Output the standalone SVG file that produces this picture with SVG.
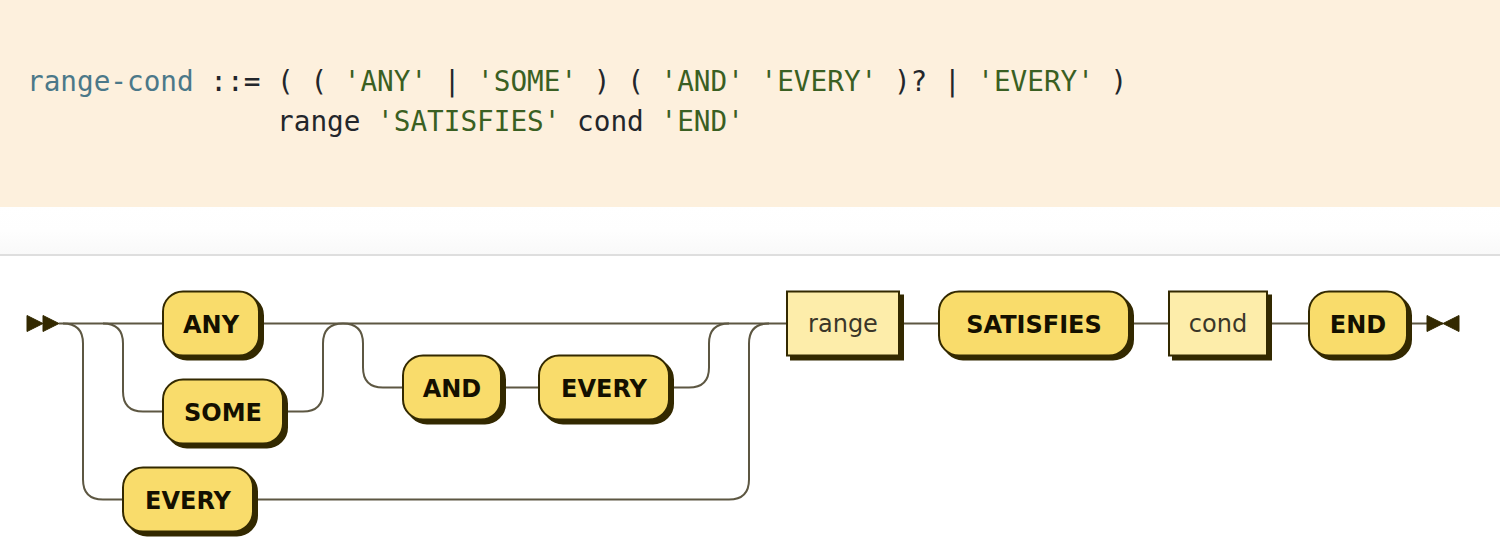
<svg xmlns="http://www.w3.org/2000/svg" width="1500" height="556" viewBox="0 0 1500 556">
<defs>
<linearGradient id="fade" x1="0" y1="0" x2="0" y2="1">
<stop offset="0" stop-color="#ffffff"/>
<stop offset="0.5" stop-color="#fefefe"/>
<stop offset="1" stop-color="#f9f9f9"/>
</linearGradient>
</defs>
<style>
.code{font-family:"DejaVu Sans Mono","Liberation Mono",monospace;font-size:27.7px;fill:#23262b;white-space:pre}
.nt-name{fill:#4b7889}
.str{fill:#3a5f22}
.line{fill:none;stroke:#5d5742;stroke-width:1}
.shadow{fill:#332900;stroke:#332900;stroke-width:1}
.terminal{fill:#F9DC6B;stroke:#332900;stroke-width:1}
.nonterminal{fill:#FDEDAA;stroke:#332900;stroke-width:1}
.tt{font-family:"DejaVu Sans",Verdana,sans-serif;font-weight:bold;font-size:12px;fill:#141000;text-anchor:middle}
.nt{font-family:"DejaVu Sans",Verdana,sans-serif;font-size:12px;fill:#3a3628;text-anchor:middle}
.mark{fill:#332900;stroke:#332900;stroke-width:0.5}
</style>
<rect x="0" y="0" width="1500" height="556" fill="#ffffff"/>
<rect x="0" y="0" width="1500" height="207" fill="#fdf0dd"/>
<rect x="0" y="207" width="1500" height="47" fill="url(#fade)"/>
<rect x="0" y="254" width="1500" height="2" fill="#dedede"/>
<g id="code">
<text class="code" x="27" y="91"><tspan class="nt-name">range-cond</tspan> ::= ( ( <tspan class="str">'ANY'</tspan> | <tspan class="str">'SOME'</tspan> ) ( <tspan class="str">'AND'</tspan> <tspan class="str">'EVERY'</tspan> )? | <tspan class="str">'EVERY'</tspan> )</text>
<text class="code" x="27" y="131">               range <tspan class="str">'SATISFIES'</tspan> cond <tspan class="str">'END'</tspan></text>
</g>
<g transform="translate(25 289.5) scale(2)">
<g id="connectors">
<path class="line" d="M17 17 H69"/>
<path class="line" d="M19 17 q10 0 10 10 V95 q0 10 10 10 H49"/>
<path class="line" d="M39 17 q10 0 10 10 V51 q0 10 10 10 H69"/>
<path class="line" d="M117 17 H381"/>
<path class="line" d="M129 61 H139 q10 0 10 -10 V27 q0 -10 10 -10"/>
<path class="line" d="M159 17 q10 0 10 10 V39 q0 10 10 10 H189"/>
<path class="line" d="M238 49 H257"/>
<path class="line" d="M322 49 H332 q10 0 10 -10 V27 q0 -10 10 -10"/>
<path class="line" d="M114 105 H352 q10 0 10 -10 V27 q0 -10 10 -10"/>
<path class="line" d="M437 17 H457"/>
<path class="line" d="M552 17 H572"/>
<path class="line" d="M621 17 H642"/>
<path class="line" d="M691 17 H709"/>
</g>
<g id="start">
<polygon class="mark" points="9 17 1 13 1 21"/>
<polygon class="mark" points="17 17 9 13 9 21"/>
</g>
<g id="end">
<polygon class="mark" points="709 17 701 13 701 21"/>
<polygon class="mark" points="709 17 717 13 717 21"/>
</g>
<g id="any">
<rect class="shadow" x="71" y="3" width="48" height="32" rx="10"/>
<rect class="terminal" x="69" y="1" width="48" height="32" rx="10"/>
<text class="tt" x="93" y="21.5">ANY</text>
</g>
<g id="some">
<rect class="shadow" x="71" y="47" width="60" height="32" rx="10"/>
<rect class="terminal" x="69" y="45" width="60" height="32" rx="10"/>
<text class="tt" x="99" y="65.5">SOME</text>
</g>
<g id="every-alt">
<rect class="shadow" x="51" y="91" width="65" height="32" rx="10"/>
<rect class="terminal" x="49" y="89" width="65" height="32" rx="10"/>
<text class="tt" x="81.5" y="109.5">EVERY</text>
</g>
<g id="and">
<rect class="shadow" x="191" y="35" width="49" height="32" rx="10"/>
<rect class="terminal" x="189" y="33" width="49" height="32" rx="10"/>
<text class="tt" x="213.5" y="53.5">AND</text>
</g>
<g id="every">
<rect class="shadow" x="259" y="35" width="65" height="32" rx="10"/>
<rect class="terminal" x="257" y="33" width="65" height="32" rx="10"/>
<text class="tt" x="289.5" y="53.5">EVERY</text>
</g>
<g id="range">
<rect class="shadow" x="383" y="3" width="56" height="32"/>
<rect class="nonterminal" x="381" y="1" width="56" height="32"/>
<text class="nt" x="409" y="21">range</text>
</g>
<g id="satisfies">
<rect class="shadow" x="459" y="3" width="95" height="32" rx="10"/>
<rect class="terminal" x="457" y="1" width="95" height="32" rx="10"/>
<text class="tt" x="504.5" y="21.5">SATISFIES</text>
</g>
<g id="cond">
<rect class="shadow" x="574" y="3" width="49" height="32"/>
<rect class="nonterminal" x="572" y="1" width="49" height="32"/>
<text class="nt" x="596.5" y="21">cond</text>
</g>
<g id="end-kw">
<rect class="shadow" x="644" y="3" width="49" height="32" rx="10"/>
<rect class="terminal" x="642" y="1" width="49" height="32" rx="10"/>
<text class="tt" x="666.5" y="21.5">END</text>
</g>
</g>
</svg>
